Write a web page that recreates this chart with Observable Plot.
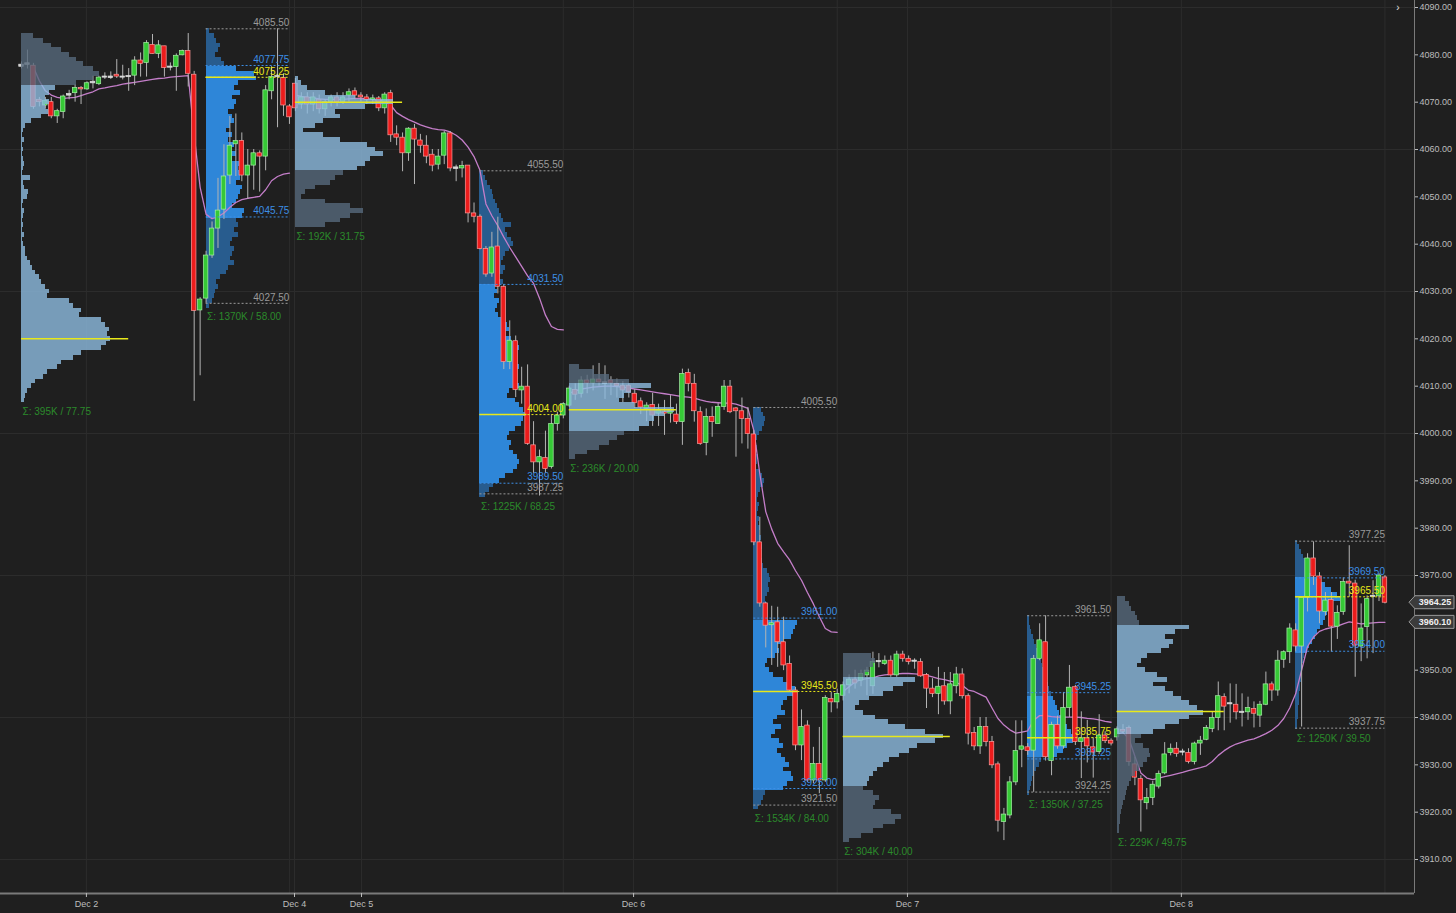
<!DOCTYPE html>
<html><head><meta charset="utf-8">
<script src="https://cdn.jsdelivr.net/npm/d3@7"></script>
<script src="https://cdn.jsdelivr.net/npm/@observablehq/plot@0.6"></script>
<style>html,body{margin:0;padding:0;background:#1f1f1f;overflow:hidden}</style>
</head><body><div id="chart"></div>
<script>
// ---------- candle data (30-min bars, slot index = position) ----------
const open = [
4077.8,4078.0,4077.7,4070.5,4069.3,4070.0,4067.0,4067.9,4071.5,4071.9,
4073.0,4072.7,4074.1,4073.8,4075.3,4075.2,4075.8,4075.3,4075.4,4075.6,
4078.8,4078.3,4082.1,4080.2,4081.8,4077.4,4077.4,4079.9,4080.8,4075.8,
4026.0,4028.5,4037.6,4043.3,4047.3,4054.5,4061.1,4061.8,4054.5,4056.6,
4059.2,4058.5,4072.3,4075.4,4075.1,4069.1,4073.9,4069.5,4071.0,4069.5,
4070.5,4068.5,4070.0,4071.0,4070.0,4071.4,4072.3,4071.4,4071.0,4070.5,
4070.8,4068.7,4071.9,4063.2,4062.5,4059.2,4064.4,4061.9,4060.8,4058.9,
4056.8,4058.7,4063.4,4056.0,4056.0,4056.6,4046.5,4045.8,4039.0,4033.8,
4039.5,4031.0,4015.1,4019.5,4009.1,4009.9,3997.5,3993.9,3994.8,3992.9,
4002.0,4003.8,4005.9,4009.2,4008.4,4011.2,4010.6,4011.4,4010.6,4011.2,
4010.5,4010.1,4010.1,4008.4,4006.8,4005.2,4006.0,4004.2,4004.5,4004.2,
4004.0,4002.4,4012.8,4010.5,4004.5,3998.0,4003.5,4002.0,4005.6,4009.9,
4005.3,4004.7,4003.1,3999.8,3977.0,3964.1,3959.5,3960.1,3955.9,3951.3,
3945.7,3934.1,3938.3,3926.7,3930.2,3926.7,3943.9,3943.2,3944.6,3946.8,
3948.0,3947.8,3948.9,3946.6,3951.8,3951.3,3952.0,3948.9,3953.3,3952.4,
3951.9,3951.7,3949.0,3946.1,3945.0,3946.6,3943.4,3946.6,3949.1,3944.5,
3936.7,3933.9,3938.0,3934.8,3930.1,3917.9,3919.3,3926.3,3933.2,3933.7,
3933.0,3952.4,3955.9,3930.8,3938.4,3933.9,3942.0,3946.4,3934.8,3935.6,
3933.7,3932.7,3936.2,3935.1,3935.8,3937.4,3937.8,3930.1,3927.0,3921.9,
3923.0,3925.4,3928.2,3932.5,3933.4,3932.7,3932.5,3930.6,3934.5,3935.3,
3937.6,3939.9,3944.3,3942.9,3942.7,3941.1,3941.1,3941.8,3940.4,3942.7,
3947.0,3945.7,3952.2,3953.8,3958.4,3955.0,3965.3,3973.6,3969.8,3962.3,
3964.8,3959.2,3962.3,3968.7,3968.3,3955.0,3959.1,3965.6,3965.6,3969.6];
const high = [
4078.5,4081.0,4078.2,4071.0,4071.0,4071.0,4068.5,4071.5,4072.5,4073.7,
4073.3,4074.3,4075.5,4075.5,4076.2,4076.4,4079.0,4077.8,4077.1,4079.6,
4080.4,4083.0,4084.3,4083.0,4081.8,4078.3,4080.2,4081.0,4084.5,4076.5,
4028.7,4038.5,4044.7,4053.9,4061.0,4067.0,4067.5,4063.5,4060.0,4060.0,
4059.7,4073.5,4077.5,4085.5,4076.0,4069.5,4075.0,4072.0,4072.0,4072.0,
4071.5,4070.5,4071.5,4072.0,4072.0,4072.8,4073.0,4072.0,4071.6,4071.5,
4071.2,4072.0,4072.5,4065.0,4063.5,4064.6,4065.3,4063.2,4062.9,4060.0,
4060.0,4063.8,4063.8,4056.7,4057.5,4056.6,4048.7,4046.2,4039.5,4042.5,
4045.7,4031.5,4023.8,4020.6,4014.0,4014.5,4002.5,3996.5,4000.5,4004.0,
4004.5,4006.5,4010.0,4010.5,4012.0,4012.3,4014.3,4014.8,4014.3,4012.0,
4011.5,4011.0,4010.5,4009.3,4007.5,4006.5,4008.5,4006.2,4007.0,4008.0,
4006.2,4013.6,4013.6,4012.5,4005.6,4005.2,4005.6,4006.3,4011.2,4011.2,
4005.5,4007.5,4005.5,4000.6,3982.3,3964.3,3963.5,3963.3,3961.2,3953.0,
3946.4,3941.6,3939.3,3933.7,3937.9,3944.6,3945.3,3946.0,3947.5,3949.0,
3950.0,3950.0,3950.6,3953.8,3953.5,3953.0,3953.0,3954.0,3954.0,3953.0,
3952.4,3952.4,3949.3,3948.2,3950.6,3949.5,3949.5,3950.6,3950.3,3945.0,
3937.9,3940.0,3940.0,3936.0,3930.6,3920.8,3927.5,3939.3,3939.3,3934.5,
3953.1,3959.8,3961.5,3939.0,3940.3,3945.3,3951.0,3946.8,3941.2,3939.4,
3935.7,3940.6,3937.0,3935.5,3938.0,3938.5,3938.2,3931.6,3927.7,3925.0,
3926.5,3928.7,3934.7,3934.4,3934.7,3933.3,3933.4,3934.8,3936.0,3938.3,
3941.1,3947.5,3945.0,3947.1,3947.0,3945.0,3944.3,3943.3,3943.4,3949.6,
3947.5,3954.1,3954.1,3959.8,3959.8,3965.4,3974.6,3977.1,3970.6,3966.4,
3966.4,3963.6,3969.5,3976.3,3969.0,3964.0,3965.7,3968.9,3970.4,3970.0];
const low = [
4077.0,4077.0,4068.5,4069.0,4068.5,4066.5,4065.5,4066.5,4070.5,4070.0,
4069.5,4072.5,4072.8,4073.5,4074.8,4074.8,4075.0,4074.7,4072.3,4073.5,
4075.3,4075.3,4080.2,4079.2,4075.3,4076.6,4072.3,4079.8,4073.2,4006.8,
4012.2,4027.5,4037.0,4039.1,4045.2,4052.6,4054.3,4053.2,4049.5,4051.4,
4051.0,4055.5,4070.5,4064.6,4067.0,4065.3,4068.0,4068.5,4067.5,4068.0,
4067.5,4067.0,4069.0,4069.0,4069.5,4070.0,4070.5,4070.0,4069.5,4069.5,
4068.0,4067.5,4061.5,4060.8,4055.3,4057.5,4052.6,4059.2,4057.0,4055.3,
4055.7,4056.8,4055.3,4053.2,4054.0,4044.5,4044.5,4038.8,4033.0,4033.0,
4029.5,4013.5,4013.5,4007.6,4006.2,3997.5,3991.6,3986.8,3991.6,3992.5,
4000.5,4003.1,4005.5,4007.0,4007.5,4008.4,4009.0,4010.0,4007.2,4008.0,
4007.5,4006.5,4007.5,4005.3,4004.0,4002.5,4001.5,4001.5,3999.6,4002.2,
4001.9,3997.5,4008.8,4002.4,3997.5,3995.3,3999.2,4002.0,4004.9,4004.2,
3995.0,3997.8,3996.7,3976.3,3963.3,3954.7,3951.0,3950.6,3949.9,3945.3,
3933.0,3930.9,3926.3,3926.0,3923.9,3926.3,3941.0,3941.8,3943.5,3945.0,
3946.0,3946.5,3944.6,3944.9,3950.5,3951.0,3948.5,3948.5,3951.7,3951.1,
3950.2,3948.5,3941.9,3944.2,3940.6,3942.6,3940.6,3945.0,3943.9,3934.2,
3933.0,3932.2,3933.8,3929.2,3915.8,3914.0,3918.6,3925.6,3929.4,3932.0,
3924.2,3952.0,3930.8,3927.7,3933.3,3933.3,3940.0,3934.1,3927.1,3930.4,
3927.2,3932.2,3934.5,3934.0,3935.0,3936.5,3929.7,3925.6,3915.8,3920.5,
3921.4,3924.9,3927.9,3931.9,3931.6,3931.9,3930.2,3930.0,3932.0,3935.1,
3936.8,3937.2,3937.2,3938.8,3939.5,3938.0,3939.4,3937.8,3937.9,3942.5,
3943.4,3944.5,3950.4,3951.4,3953.8,3938.0,3962.3,3967.9,3959.8,3961.4,
3953.8,3956.5,3961.6,3965.4,3948.5,3951.8,3952.4,3953.5,3964.5,3964.0];
const close = [
4077.6,4078.1,4069.0,4070.0,4070.3,4067.0,4068.1,4071.2,4071.6,4073.0,
4072.7,4074.0,4074.2,4075.2,4075.3,4075.3,4075.4,4075.3,4075.4,4078.8,
4078.1,4082.5,4080.2,4082.0,4077.2,4077.4,4079.8,4080.8,4076.0,4025.9,
4028.3,4037.6,4043.3,4047.1,4054.3,4060.8,4061.8,4054.5,4056.6,4059.2,
4058.5,4072.5,4075.3,4075.4,4069.3,4066.8,4068.7,4071.0,4069.5,4071.0,
4068.5,4070.0,4071.0,4070.0,4071.0,4072.1,4071.4,4071.0,4070.5,4070.8,
4068.7,4071.6,4063.0,4062.5,4059.2,4064.4,4062.1,4060.8,4058.5,4056.6,
4058.5,4063.4,4056.0,4056.1,4056.5,4046.5,4045.8,4039.0,4033.6,4039.3,
4031.0,4015.1,4019.6,4009.2,4009.9,3997.8,3993.9,3995.0,3992.5,4002.0,
4003.8,4006.2,4009.5,4008.2,4011.2,4010.6,4011.4,4010.8,4010.7,4010.6,
4010.0,4009.1,4008.7,4006.4,4005.5,4005.9,4003.8,4004.9,4004.2,4004.7,
4002.4,4012.6,4010.5,4004.7,3997.8,4003.5,4002.4,4005.6,4009.9,4004.5,
4004.7,4003.1,3999.9,3977.0,3964.1,3959.4,3959.9,3955.9,3951.0,3945.7,
3934.1,3938.0,3926.7,3930.2,3926.7,3944.1,3943.2,3945.0,3946.8,3948.0,
3947.2,3949.2,3949.9,3951.7,3951.8,3952.0,3948.9,3953.3,3952.4,3951.7,
3951.9,3948.7,3946.1,3945.0,3946.5,3943.4,3947.0,3949.1,3944.5,3936.6,
3933.9,3938.0,3934.8,3929.9,3918.2,3919.5,3926.3,3932.9,3933.9,3932.9,
3952.4,3956.3,3931.6,3938.4,3933.9,3942.0,3946.3,3934.8,3935.6,3933.9,
3932.6,3936.2,3935.0,3934.5,3937.5,3937.0,3930.6,3927.3,3922.5,3923.0,
3925.8,3928.1,3932.2,3933.4,3932.3,3932.7,3930.6,3934.5,3935.1,3937.8,
3939.9,3944.5,3942.3,3942.9,3941.1,3941.1,3942.0,3940.8,3942.7,3947.0,
3945.7,3952.0,3953.8,3958.8,3955.0,3965.3,3973.6,3969.8,3962.4,3964.7,
3959.2,3962.1,3968.6,3968.3,3955.2,3958.8,3965.0,3965.6,3970.0,3964.25];
const vwap = [
null,null,4077.4,4074.5,4072.4,4071.5,4071.0,4070.8,4070.9,4071.0,
4071.4,4071.8,4072.2,4072.8,4073.0,4073.3,4073.5,4073.8,4074.0,4074.2,
4074.4,4074.6,4074.8,4075.0,4075.1,4075.3,4075.4,4075.5,4075.6,4063.0,
4052.0,4046.3,4045.4,4045.8,4046.6,4047.8,4048.8,4049.4,4049.7,4049.9,
4050.1,4051.5,4053.4,4054.3,4054.8,4055.0,4071.5,4071.2,4071.0,4070.9,
4070.7,4070.6,4070.6,4070.6,4070.6,4070.7,4070.8,4070.8,4070.7,4070.6,
4070.4,4070.2,4069.4,4067.8,4067.0,4066.3,4065.8,4065.2,4064.8,4064.4,
4064.2,4064.1,4063.7,4063.0,4062.0,4060.5,4058.5,4055.6,4048.5,4046.0,
4043.9,4041.5,4039.3,4037.3,4035.3,4033.3,4031.7,4028.6,4025.0,4022.6,
4022.0,4021.9,4008.5,4009.0,4009.4,4009.6,4009.8,4009.9,4010.0,4010.0,
4009.9,4009.8,4009.6,4009.4,4009.2,4009.0,4008.8,4008.6,4008.4,4008.2,
4008.0,4007.8,4007.7,4007.5,4007.1,4006.8,4006.6,4006.5,4006.4,4006.4,
4006.2,4005.8,4005.3,4000.6,3991.5,3983.5,3979.8,3976.8,3975.0,3973.3,
3971.0,3969.0,3966.4,3964.0,3961.3,3958.8,3958.1,3958.0,3945.5,3946.5,
3947.5,3948.0,3948.2,3948.4,3948.8,3949.0,3949.1,3949.2,3949.3,3949.3,
3949.2,3949.1,3948.9,3948.6,3948.2,3948.0,3947.7,3947.4,3946.8,3945.8,
3945.5,3944.9,3944.3,3942.0,3939.8,3938.4,3937.4,3936.7,3936.9,3937.2,
3939.4,3940.4,3940.4,3940.2,3940.1,3940.1,3940.1,3940.1,3940.0,3939.8,
3939.7,3939.5,3939.2,3939.0,3936.5,3936.8,3935.5,3931.8,3928.3,3927.2,
3926.9,3927.2,3927.5,3927.8,3928.1,3928.4,3928.8,3929.1,3929.4,3929.8,
3930.7,3932.0,3933.0,3933.8,3934.4,3934.8,3935.2,3935.5,3936.0,3936.6,
3937.3,3938.3,3939.8,3942.0,3945.0,3950.0,3955.0,3957.0,3958.2,3958.7,
3959.0,3959.3,3959.8,3960.2,3960.0,3959.8,3959.9,3960.0,3960.1,3960.1];

// ---------- sessions / volume profiles ----------
const sessionType  = ["ETH","RTH","ETH","RTH","ETH","RTH","ETH","RTH","ETH","RTH"];
const sessionFirst = [0, 31, 46, 77, 92, 123, 138, 169, 184, 214];
const sessionLast  = [30, 45, 76, 91, 122, 137, 168, 183, 213, 229];
const profileTop   = [4084, 4085, 4075, 4055, 4014, 4005, 3953, 3961, 3965, 3977];
const vaTop        = [4073, 4077, 4075, 4031, 4010, 3960, 3948, 3944, 3959, 3969];
const vaBottom     = [4007, 4046, 4056, 3990, 4001, 3925, 3926, 3932, 3937, 3954];
const pocPrice     = [4020, 4075.25, 4070, 4004, 4005, 3945.5, 3936, 3935.75, 3941.25, 3965.5];
const sigmaVolume  = ["395K","1370K","192K","1225K","236K","1534K","304K","1350K","229K","1250K"];
const sigmaRange   = ["77.75","58.00","31.75","68.25","20.00","84.00","40.00","37.25","49.75","39.50"];
// relative volume per 1-pt price level, listed from the top level down
const vol1 = [12,22,30,40,48,55,62,72,78,72,55,34,28,24,28,24,27,20,10,4,
  2,1,3,1,2,1,2,3,2,1,9,2,3,7,6,2,1,3,2,1,2,1,3,1,2,4,
  4,6,9,11,14,18,20,24,28,26,48,52,60,58,80,84,88,86,89,85,80,60,52,40,36,26,22,14,10,6,4,3];
const vol2 = [3,8,10,14,12,9,15,18,30,48,50,32,28,34,26,30,28,22,26,28,24,20,26,22,28,24,30,26,34,32,
  36,34,30,36,34,32,30,26,38,36,30,32,28,32,26,24,28,26,24,28,22,20,14,10,12,9,8,6,3];
const vol3 = [3,6,12,30,60,98,70,40,45,28,20,8,28,45,72,80,88,75,70,62,48,40,35,20,10,6,30,55,68,55,45,30];
const vol4 = [4,6,8,11,13,14,16,18,20,22,24,32,26,28,32,34,30,26,24,22,26,24,20,24,16,18,15,20,18,16,
  19,22,28,30,26,32,36,40,34,38,36,40,36,38,34,40,30,28,36,40,44,47,44,42,36,30,28,32,30,34,
  38,40,38,34,26,20,14,10,6];
const vol5 = [10,25,40,60,82,62,55,50,65,105,95,85,80,70,55,48,40,30,18,6];
const vol6 = [8,10,12,11,9,6,4,3,4,3,5,4,3,6,9,11,10,7,5,4,6,5,4,6,5,7,6,8,7,9,8,7,9,10,14,16,17,15,16,14,
  12,13,11,12,10,44,42,40,38,30,24,26,22,14,12,16,20,30,38,42,44,34,30,28,32,24,20,28,22,18,
  26,30,24,28,32,36,30,38,40,34,30,12,10,8,5];
const vol7 = [28,32,30,26,22,72,60,50,40,26,16,12,20,32,45,62,82,100,92,74,66,56,46,40,34,30,26,24,
  20,30,36,32,30,48,58,52,40,30,18,6];
const vol8 = [2,2,3,4,6,7,9,11,13,14,15,16,18,20,21,22,24,26,28,30,32,34,36,40,44,46,46,40,36,30,14,12,9,7,5,4,3,2];
const vol9 = [8,12,14,18,20,22,72,58,48,56,52,44,30,24,20,28,40,50,36,48,56,64,72,80,86,72,62,48,36,
  24,18,26,32,33,30,26,22,18,14,12,10,9,8,6,5,4,3,3,2,2];
const vol10 = [2,4,6,8,10,12,14,16,24,30,36,42,45,38,34,32,30,28,25,22,20,17,14,12,9,8,7,7,6,6,5,5,4,4,4,3,3,3,2,2];
const profileVols = [vol1,vol2,vol3,vol4,vol5,vol6,vol7,vol8,vol9,vol10];

// RTH levels: high, VAH, POC, VAL, low
const rthSessions = [1,3,5,7,9];
const rthHigh = [4085.50, 4055.50, 4005.50, 3961.50, 3977.25];
const rthVAH  = [4077.75, 4031.50, 3961.00, 3945.25, 3969.50];
const rthPOC  = [4075.25, 4004.00, 3945.50, 3935.75, 3965.50];
const rthVAL  = [4045.75, 3989.50, 3925.00, 3931.25, 3954.00];
const rthLow  = [4027.50, 3987.25, 3921.50, 3924.25, 3937.75];

// axes
const yTicks = d3.range(3910, 4091, 10);
const yGrid = d3.range(3910, 4091, 30);
const dateTicks = [10.9, 45.85, 57.1, 102.8, 148.8, 194.8];
const dateLabels = ["Dec 2","Dec 4","Dec 5","Dec 6","Dec 7","Dec 8"];

// ---------- layout constants ----------
const xDomain = [-3.53, 233.96];
const yDomain = [3902.82, 4091.48];
const volUnit = 1 / 5.954;   // relative volume unit -> slots
const ethPocLen = 18;        // overnight POC line length in slots

// ---------- derived tables ----------
const candles = open.map((o, i) => ({i, o, h: high[i], l: low[i], c: close[i],
  dir: Math.abs(close[i] - o) < 0.3 ? 0 : (close[i] > o ? 1 : -1)}));
const vw = vwap.map((v, i) => ({i, v, day: Math.floor(i / 46)})).filter(d => d.v != null);

const bins = [];
profileVols.forEach((vols, s) => vols.forEach((v, k) => {
  const p = profileTop[s] - k;
  bins.push({s, p, v, rth: sessionType[s] === "RTH", va: p <= vaTop[s] && p >= vaBottom[s]});
}));
const rthBins = bins.filter(b => b.rth), ethBins = bins.filter(b => !b.rth);

const levelColor = {high: "#9a9a9a", vah: "#3d8fe6", poc: "#e8e81a", val: "#3d8fe6", low: "#9a9a9a"};
const levels = [];
rthSessions.forEach((s, j) => {
  [["high", rthHigh[j]], ["vah", rthVAH[j]], ["poc", rthPOC[j]], ["val", rthVAL[j]], ["low", rthLow[j]]]
    .forEach(([kind, price]) => levels.push({s, kind, price, x1: sessionFirst[s], x2: sessionLast[s]}));
});
const rthPocBars = rthSessions.map((s, j) => ({price: rthPOC[j], x1: sessionFirst[s],
  x2: sessionFirst[s] + d3.max(profileVols[s]) * volUnit}));
const ethPoc = sessionType.map((t, s) => ({t, s})).filter(d => d.t === "ETH")
  .map(({s}) => ({price: pocPrice[s], x1: sessionFirst[s], x2: sessionFirst[s] + ethPocLen}));
const sigma = sessionType.map((t, s) => ({s, x: sessionFirst[s],
  y: profileTop[s] - profileVols[s].length + 0.5,
  text: `Σ: ${sigmaVolume[s]} / ${sigmaRange[s]}`}));

const tags = [{value: close[close.length - 1]}, {value: vwap[vwap.length - 1]}];
// axis labels hidden behind the price tags
const hiddenTicks = new Set(yTicks.filter(t => tags.some(g => Math.abs(g.value - t) < 1.6)));

const profFill = b => b.rth ? (b.va ? "#2e86d8" : "#285c8e") : (b.va ? "#8dbbe0" : "#56697c");
const bodyFill = d => d.dir > 0 ? "#36c936" : d.dir < 0 ? "#ec1c1c" : "#d0d0d0";
const bodyStroke = d => d.dir > 0 ? "#a6f0a6" : d.dir < 0 ? "#ff9a9a" : "#e0e0e0";
const dateMap = new Map(dateTicks.map((t, i) => [t, dateLabels[i]]));

function priceTags(index, scales, values, dimensions) {
  const g = d3.create("svg:g");
  const x0 = dimensions.width - dimensions.marginRight;
  tags.forEach(t => {
    const y = scales.y(t.value);
    g.append("path")
      .attr("d", `M${x0 - 5},${y} L${x0 + 1},${y - 6.5} H${x0 + 40} V${y + 6.5} H${x0 + 1} Z`)
      .attr("fill", "#3b3b3b").attr("stroke", "#9a9a9a").attr("stroke-width", 1);
    g.append("text").attr("x", x0 + 21).attr("y", y).attr("dy", "0.35em")
      .attr("text-anchor", "middle").attr("fill", "#f0f0f0").attr("font-size", 9)
      .attr("font-weight", "bold").text(t.value.toFixed(2));
  });
  g.append("text").attr("x", x0 - 16).attr("y", 11).attr("fill", "#e0e0e0")
    .attr("font-size", 10).attr("text-anchor", "middle").text("›");
  return g.node();
}

const chart = Plot.plot({
  width: 1456, height: 913,
  marginLeft: 0, marginRight: 42, marginTop: 0, marginBottom: 20,
  x: {domain: xDomain, axis: null},
  y: {domain: yDomain, axis: null},
  style: {background: "#1f1f1f", color: "#c8c8c8", fontFamily: "'Liberation Sans', Arial, sans-serif", fontSize: "10px"},
  marks: [
    Plot.ruleY(yGrid, {stroke: "#2c2c2c", strokeWidth: 1}),
    Plot.ruleX(dateTicks, {stroke: "#2c2c2c", strokeWidth: 1, y1: yDomain[0], y2: yDomain[1]}),
    Plot.ruleX(rthSessions.map(s => sessionLast[s]), {stroke: "#2c2c2c", strokeWidth: 1, y1: yDomain[0], y2: yDomain[1]}),
    // RTH profiles (under candles)
    Plot.rect(rthBins, {x1: d => sessionFirst[d.s], x2: d => sessionFirst[d.s] + d.v * volUnit,
      y1: d => d.p - 0.5, y2: d => d.p + 0.5, fill: profFill, shapeRendering: "crispEdges"}),
    // VWAP
    Plot.line(vw, {x: "i", y: "v", z: "day", stroke: "#c47ec9", strokeWidth: 1.3}),
    // candles
    Plot.ruleX(candles, {x: "i", y1: "l", y2: "h", stroke: "#b4b4b4", strokeWidth: 1}),
    Plot.rect(candles, {x1: d => d.i - 0.38, x2: d => d.i + 0.38,
      y1: d => Math.min(d.o, d.c) - (d.dir === 0 ? 0.12 : 0), y2: d => Math.max(d.o, d.c) + (d.dir === 0 ? 0.12 : 0),
      fill: bodyFill, stroke: bodyStroke, strokeWidth: 0.7}),
    // ETH profiles (semi-transparent, over candles)
    Plot.rect(ethBins, {x1: d => sessionFirst[d.s], x2: d => sessionFirst[d.s] + d.v * volUnit,
      y1: d => d.p - 0.5, y2: d => d.p + 0.5, fill: profFill, fillOpacity: 0.8, shapeRendering: "crispEdges"}),
    // POC lines
    Plot.ruleY(ethPoc, {y: "price", x1: "x1", x2: "x2", stroke: "#e8e81a", strokeWidth: 1.5}),
    Plot.ruleY(rthPocBars, {y: "price", x1: "x1", x2: "x2", stroke: "#e8e81a", strokeWidth: 1.5}),
    // RTH level lines & labels
    Plot.ruleY(levels, {y: "price", x1: "x1", x2: "x2", stroke: d => levelColor[d.kind], strokeWidth: 1, strokeDasharray: "2,2"}),
    Plot.text(levels, {x: "x2", y: "price", text: d => d.price.toFixed(2), fill: d => levelColor[d.kind],
      textAnchor: "end", dy: -6, fontSize: 10}),
    // Σ labels
    Plot.text(sigma, {x: "x", y: "y", text: "text", fill: "#2b8a2b", textAnchor: "start", dx: 1, dy: 9, fontSize: 10}),
    // axes
    Plot.ruleY([yDomain[0]], {stroke: "#7a7a7a", strokeWidth: 2}),
    Plot.ruleX([xDomain[1]], {stroke: "#7a7a7a", strokeWidth: 1, y1: yDomain[0], y2: yDomain[1]}),
    Plot.axisY({anchor: "right", ticks: yTicks, tickFormat: d => hiddenTicks.has(d) ? "" : d.toFixed(2),
      tickSize: 3, tickPadding: 2, fontSize: 9, color: "#bdbdbd"}),
    Plot.axisX({ticks: dateTicks, tickFormat: d => dateMap.get(d), tickSize: 4, tickPadding: 3,
      fontSize: 9, color: "#bdbdbd"}),
    priceTags
  ]
});
document.getElementById("chart").appendChild(chart);
</script>
</body></html>
